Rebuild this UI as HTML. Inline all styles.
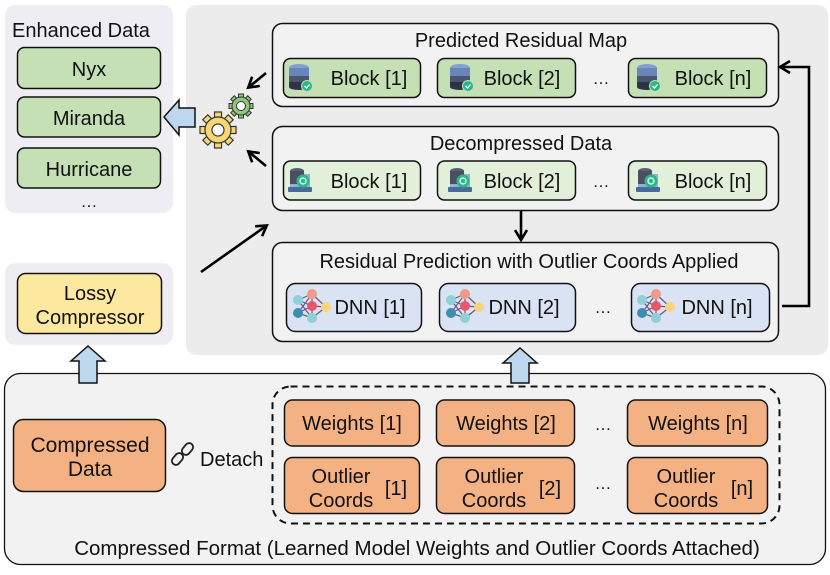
<!DOCTYPE html>
<html><head><meta charset="utf-8"><style>
html,body{margin:0;padding:0;background:#fff;}
svg text{font-family:"Liberation Sans",Arial,sans-serif;fill:#111;}
</style></head><body>
<svg width="830" height="570" viewBox="0 0 830 570" xmlns="http://www.w3.org/2000/svg">
<defs>
<marker id="ah" markerWidth="14" markerHeight="14" refX="10" refY="7" orient="auto" markerUnits="userSpaceOnUse">
<path d="M1,1 L11,7 L1,13" fill="none" stroke="#000" stroke-width="2.6"/>
</marker>
<g id="db1">
<ellipse cx="0" cy="-9" rx="10" ry="4" fill="#7f9fd6"/>
<rect x="-10" y="-9" width="20" height="8" fill="#6a86b8"/>
<rect x="-10" y="-1" width="20" height="6" fill="#4a5570"/>
<rect x="-10" y="5" width="20" height="5" fill="#2d3344"/>
<ellipse cx="0" cy="10" rx="10" ry="3" fill="#2d3344"/>
<circle cx="8" cy="9" r="5.5" fill="#27b98a" stroke="#c5e0b4" stroke-width="1"/>
<path d="M5.5,9 L7.5,11 L10.5,7.5" stroke="#fff" stroke-width="1.3" fill="none"/>
</g>
<g id="db2">
<rect x="-11" y="7" width="24" height="5" rx="1" fill="#4b6a9a"/>
<rect x="-9" y="-6" width="20" height="13" fill="#8fb0e0"/>
<ellipse cx="-2" cy="-9" rx="7" ry="3" fill="#5a6070"/>
<rect x="-9" y="-9" width="14" height="13" fill="#4a5060"/>
<circle cx="4" cy="1" r="6.5" fill="#27b98a"/>
<circle cx="4" cy="1" r="3" fill="none" stroke="#fff" stroke-width="1.2"/>
</g>
<g id="nn">
<g stroke="#6a5a7a" stroke-width="1.2">
<line x1="-12" y1="-6" x2="2" y2="-12"/><line x1="-12" y1="-6" x2="2" y2="0"/><line x1="-12" y1="-6" x2="2" y2="12"/>
<line x1="-12" y1="7" x2="2" y2="-12"/><line x1="-12" y1="7" x2="2" y2="0"/><line x1="-12" y1="7" x2="2" y2="12"/>
<line x1="2" y1="-12" x2="16" y2="1"/><line x1="2" y1="0" x2="16" y2="1"/><line x1="2" y1="12" x2="16" y2="1"/>
<line x1="2" y1="-12" x2="2" y2="12"/>
</g>
<circle cx="-12" cy="-6" r="5" fill="#8ecfd8"/>
<circle cx="-12" cy="7" r="5" fill="#3a8fb0"/>
<circle cx="2" cy="-12" r="5" fill="#f29a8a"/>
<circle cx="2" cy="0" r="5" fill="#e8566a"/>
<circle cx="2" cy="12" r="5" fill="#8ecfd8"/>
<circle cx="16" cy="1" r="5" fill="#fcd27a"/>
</g>
</defs>

<rect x="5" y="5" width="168" height="208" rx="10" fill="#efedf4"/>
<text x="81" y="37" font-size="20" text-anchor="middle">Enhanced Data</text>
<rect x="17.5" y="47.5" width="143" height="41" rx="7" fill="#c5e0b4" stroke="#111" stroke-width="1.5"/>
<text x="89" y="76" font-size="20" text-anchor="middle">Nyx</text>
<rect x="17.5" y="97" width="143" height="40" rx="7" fill="#c5e0b4" stroke="#111" stroke-width="1.5"/>
<text x="89" y="125" font-size="20" text-anchor="middle">Miranda</text>
<rect x="17.5" y="148" width="143" height="40" rx="7" fill="#c5e0b4" stroke="#111" stroke-width="1.5"/>
<text x="89" y="176" font-size="20" text-anchor="middle">Hurricane</text>
<text x="89" y="207" font-size="17" text-anchor="middle">…</text>

<rect x="5" y="263" width="168" height="82" rx="10" fill="#efedf4"/>
<rect x="17.5" y="273.5" width="144" height="60" rx="8" fill="#fde8a0" stroke="#111" stroke-width="1.5"/>
<text x="90" y="300" font-size="20" text-anchor="middle">Lossy</text>
<text x="90" y="324" font-size="20" text-anchor="middle">Compressor</text>

<rect x="186" y="5" width="642" height="350" rx="10" fill="#ececec"/>

<path d="M164,117 L179,100 L179,108 L195,108 L195,127 L179,127 L179,135 Z" fill="#bdd7ee" stroke="#111" stroke-width="1.5"/>

<g transform="translate(218,130)">
<g fill="#f7d774" stroke="#333" stroke-width="1.2">
<rect x="-3.5" y="-18" width="7" height="7"/><rect x="-3.5" y="11" width="7" height="7"/><rect x="-18" y="-3.5" width="7" height="7"/><rect x="11" y="-3.5" width="7" height="7"/>
<rect x="-3.5" y="-18" width="7" height="7" transform="rotate(45)"/><rect x="-3.5" y="11" width="7" height="7" transform="rotate(45)"/><rect x="-18" y="-3.5" width="7" height="7" transform="rotate(45)"/><rect x="11" y="-3.5" width="7" height="7" transform="rotate(45)"/>
</g>
<circle r="13" fill="#f7d774" stroke="#333" stroke-width="1.2"/>
<circle r="6" fill="#fff" stroke="#333" stroke-width="1.2"/>
</g>
<g transform="translate(241,106)">
<g fill="#8dc77a" stroke="#333" stroke-width="1"><rect x="-2.5" y="-12" width="5" height="5"/><rect x="-2.5" y="7" width="5" height="5"/><rect x="-12" y="-2.5" width="5" height="5"/><rect x="7" y="-2.5" width="5" height="5"/>
<rect x="-2.5" y="-12" width="5" height="5" transform="rotate(45)"/><rect x="-2.5" y="7" width="5" height="5" transform="rotate(45)"/><rect x="-12" y="-2.5" width="5" height="5" transform="rotate(45)"/><rect x="7" y="-2.5" width="5" height="5" transform="rotate(45)"/></g>
<circle r="9" fill="#8dc77a" stroke="#333" stroke-width="1"/>
<circle r="4.5" fill="#fff" stroke="#333" stroke-width="1"/>
</g>
<line x1="266" y1="73" x2="249" y2="87" stroke="#000" stroke-width="2.6" marker-end="url(#ah)"/>
<line x1="266" y1="166" x2="249" y2="152" stroke="#000" stroke-width="2.6" marker-end="url(#ah)"/>
<line x1="201" y1="272" x2="266" y2="226" stroke="#000" stroke-width="2.6" marker-end="url(#ah)"/>

<rect x="272.5" y="23.5" width="506" height="83" rx="10" fill="#f2f2f2" stroke="#111" stroke-width="1.5"/>
<text x="521" y="47" font-size="20" text-anchor="middle">Predicted Residual Map</text>
<rect x="283.5" y="58.5" width="137" height="39" rx="7" fill="#c5e0b4" stroke="#111" stroke-width="1.5"/>
<use href="#db1" x="299" y="77"/><text x="369" y="85" font-size="20" text-anchor="middle">Block [1]</text>
<rect x="437.5" y="58.5" width="138" height="39" rx="7" fill="#c5e0b4" stroke="#111" stroke-width="1.5"/>
<use href="#db1" x="460" y="77"/><text x="522" y="85" font-size="20" text-anchor="middle">Block [2]</text>
<text x="601" y="84" font-size="17" text-anchor="middle">…</text>
<rect x="628.5" y="58.5" width="138" height="39" rx="7" fill="#c5e0b4" stroke="#111" stroke-width="1.5"/>
<use href="#db1" x="647" y="77"/><text x="713" y="85" font-size="20" text-anchor="middle">Block [n]</text>

<rect x="272.5" y="126.5" width="506" height="84" rx="10" fill="#f2f2f2" stroke="#111" stroke-width="1.5"/>
<text x="521" y="150" font-size="20" text-anchor="middle">Decompressed Data</text>
<rect x="283.5" y="161" width="137" height="39" rx="7" fill="#e2f0d9" stroke="#111" stroke-width="1.5"/>
<use href="#db2" x="299" y="180"/><text x="369" y="188" font-size="20" text-anchor="middle">Block [1]</text>
<rect x="437.5" y="161" width="138" height="39" rx="7" fill="#e2f0d9" stroke="#111" stroke-width="1.5"/>
<use href="#db2" x="459" y="180"/><text x="522" y="188" font-size="20" text-anchor="middle">Block [2]</text>
<text x="601" y="187" font-size="17" text-anchor="middle">…</text>
<rect x="628.5" y="161" width="138" height="39" rx="7" fill="#e2f0d9" stroke="#111" stroke-width="1.5"/>
<use href="#db2" x="647" y="180"/><text x="713" y="188" font-size="20" text-anchor="middle">Block [n]</text>

<line x1="521" y1="211" x2="521" y2="239" stroke="#000" stroke-width="2.6" marker-end="url(#ah)"/>

<rect x="272.5" y="242.5" width="506" height="99" rx="10" fill="#f2f2f2" stroke="#111" stroke-width="1.5"/>
<text x="529" y="268" font-size="20" text-anchor="middle">Residual Prediction with Outlier Coords Applied</text>
<rect x="286.5" y="283.5" width="135" height="48" rx="9" fill="#dae3f3" stroke="#111" stroke-width="1.5"/>
<use href="#nn" x="310" y="306"/><text x="370" y="314" font-size="20" text-anchor="middle">DNN [1]</text>
<rect x="439.5" y="283.5" width="136" height="48" rx="9" fill="#dae3f3" stroke="#111" stroke-width="1.5"/>
<use href="#nn" x="463" y="306"/><text x="524" y="314" font-size="20" text-anchor="middle">DNN [2]</text>
<text x="603" y="313" font-size="17" text-anchor="middle">…</text>
<rect x="631.5" y="283.5" width="138" height="48" rx="9" fill="#dae3f3" stroke="#111" stroke-width="1.5"/>
<use href="#nn" x="654" y="306"/><text x="717" y="314" font-size="20" text-anchor="middle">DNN [n]</text>

<polyline points="782,306 809,306 809,67 781,67" fill="none" stroke="#000" stroke-width="2.6" marker-end="url(#ah)"/>

<rect x="4.5" y="373.5" width="821" height="191" rx="16" fill="#f2f2f2" stroke="#111" stroke-width="1.3"/>
<path d="M88,346 L105,361 L97,361 L97,383 L79,383 L79,361 L71,361 Z" fill="#bdd7ee" stroke="#111" stroke-width="1.5"/>
<path d="M520,348 L537,363 L529,363 L529,383 L511,383 L511,363 L503,363 Z" fill="#bdd7ee" stroke="#111" stroke-width="1.5"/>
<rect x="13.5" y="419.5" width="152" height="72" rx="10" fill="#f4b183" stroke="#111" stroke-width="1.5"/>
<text x="90" y="452" font-size="21" text-anchor="middle">Compressed</text>
<text x="90" y="476" font-size="21" text-anchor="middle">Data</text>
<g stroke="#222" stroke-width="1.8" fill="none">
<rect x="171" y="455" width="13" height="8" rx="4" transform="rotate(-50 177.5 459)"/>
<rect x="181" y="445" width="13" height="8" rx="4" transform="rotate(-50 187.5 449)"/>
</g>
<text x="200" y="466" font-size="20">Detach</text>

<rect x="272.5" y="386.5" width="507" height="137" rx="18" fill="none" stroke="#111" stroke-width="2" stroke-dasharray="7,5"/>
<g stroke="#111" stroke-width="1.5" fill="#f4b183">
<rect x="284.5" y="400" width="135" height="46" rx="8"/>
<rect x="436.5" y="400" width="138" height="46" rx="8"/>
<rect x="627.5" y="400" width="140" height="46" rx="8"/>
<rect x="284.5" y="457.5" width="135" height="56" rx="8"/>
<rect x="436.5" y="457.5" width="138" height="56" rx="8"/>
<rect x="627.5" y="457.5" width="140" height="56" rx="8"/>
</g>
<text x="352" y="430" font-size="20" text-anchor="middle">Weights [1]</text>
<text x="506" y="430" font-size="20" text-anchor="middle">Weights [2]</text>
<text x="698" y="430" font-size="20" text-anchor="middle">Weights [n]</text>
<text x="603" y="430" font-size="17" text-anchor="middle">…</text>
<text x="341" y="483" font-size="20" text-anchor="middle">Outlier</text>
<text x="341" y="507" font-size="20" text-anchor="middle">Coords</text>
<text x="396" y="495" font-size="20" text-anchor="middle">[1]</text>
<text x="494" y="483" font-size="20" text-anchor="middle">Outlier</text>
<text x="494" y="507" font-size="20" text-anchor="middle">Coords</text>
<text x="550" y="495" font-size="20" text-anchor="middle">[2]</text>
<text x="686" y="483" font-size="20" text-anchor="middle">Outlier</text>
<text x="686" y="507" font-size="20" text-anchor="middle">Coords</text>
<text x="742" y="495" font-size="20" text-anchor="middle">[n]</text>
<text x="603" y="489" font-size="17" text-anchor="middle">…</text>
<text x="417" y="555" font-size="20.5" text-anchor="middle">Compressed Format (Learned Model Weights and Outlier Coords Attached)</text>
</svg>
</body></html>
